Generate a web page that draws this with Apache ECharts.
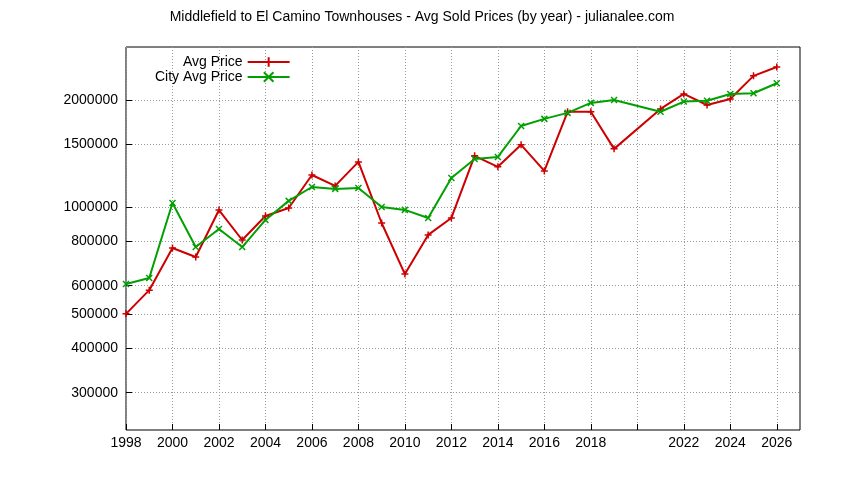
<!DOCTYPE html>
<html><head><meta charset="utf-8">
<script src="https://cdn.jsdelivr.net/npm/echarts@6/dist/echarts.min.js"></script>
<style>html,body{margin:0;background:#fff}#c{width:844px;height:480px}</style>
</head><body><div id="c"></div>
<script>
const years = [1998,1999,2000,2001,2002,2003,2004,2005,2006,2007,2008,2009,2010,2011,2012,2013,2014,2015,2016,2017,2018,2019,2021,2022,2023,2024,2025,2026];
const avgPrice = [500000,583000,766000,723000,980000,807000,943000,993000,1230000,1146000,1339000,901000,647000,834000,931000,1393000,1297000,1496000,1263000,1853000,1853000,1457000,1888000,2080000,1936000,2014000,2339000,2478000];
const cityAvgPrice = [607000,631000,1026000,771000,867000,771000,919000,1040000,1138000,1124000,1130000,1000000,981000,931000,1207000,1365000,1383000,1690000,1770000,1840000,1963000,2000000,1853000,1980000,1990000,2080000,2090000,2230000];
const yTicks = [300000,400000,500000,600000,800000,1000000,1500000,2000000];
const xTicks = [1998,2000,2002,2004,2006,2008,2010,2012,2014,2016,2018,2020,2022,2024,2026];
const xLabels = [1998,2000,2002,2004,2006,2008,2010,2012,2014,2016,2018,2022,2024,2026];
const font = 'Liberation Sans, Arial, sans-serif';
const plus = 'path://M0,5L10,5M5,0L5,10';
const cross = 'path://M0,0L10,10M0,10L10,0';
const chart = echarts.init(document.getElementById('c'));
chart.setOption({
  animation:false,
  title:{text:'Middlefield to El Camino Townhouses - Avg Sold Prices (by year) - julianalee.com',left:'center',top:5,textStyle:{fontFamily:font,fontSize:14,fontWeight:'normal',color:'#000'}},
  legend:{orient:'vertical',left:150,top:50,align:'right',itemGap:1,itemWidth:42,itemHeight:12,
    textStyle:{fontFamily:font,fontSize:14,color:'#000',width:110,align:'right'}},
  grid:{left:126,right:44,top:47,bottom:50,show:true,borderColor:'#000',borderWidth:1},
  xAxis:{type:'value',min:1998,max:2027,interval:1,
    axisLine:{show:false},
    axisTick:{customValues:xTicks,inside:true,length:6,lineStyle:{color:'#000'}},
    axisLabel:{customValues:xLabels,formatter:v=>String(v),fontFamily:font,fontSize:14,color:'#000',margin:6},
    splitLine:{show:true,lineStyle:{color:'#999',type:[1,2],width:1}}},
  yAxis:{type:'log',min:235500,max:2820000,
    axisLine:{show:false},
    axisTick:{customValues:yTicks,inside:true,length:6,lineStyle:{color:'#000'}},
    axisLabel:{customValues:yTicks,formatter:v=>String(Math.round(v)),fontFamily:font,fontSize:14,color:'#000',margin:8},
    splitLine:{show:true,lineStyle:{color:'#999',type:[1,2],width:1}}},
  series:[
    {name:'Avg Price',type:'line',data:years.map((y,i)=>[y,avgPrice[i]]),color:'#cc0000',
     lineStyle:{width:2,color:'#cc0000'},symbol:plus,symbolSize:7,
     itemStyle:{color:'#cc0000',borderColor:'#cc0000',borderWidth:1.5}},
    {name:'City Avg Price',type:'line',data:years.map((y,i)=>[y,cityAvgPrice[i]]),color:'#00a000',
     lineStyle:{width:2,color:'#00a000'},symbol:cross,symbolSize:6,
     itemStyle:{color:'#00a000',borderColor:'#00a000',borderWidth:1.5}}
  ]
});
</script></body></html>
